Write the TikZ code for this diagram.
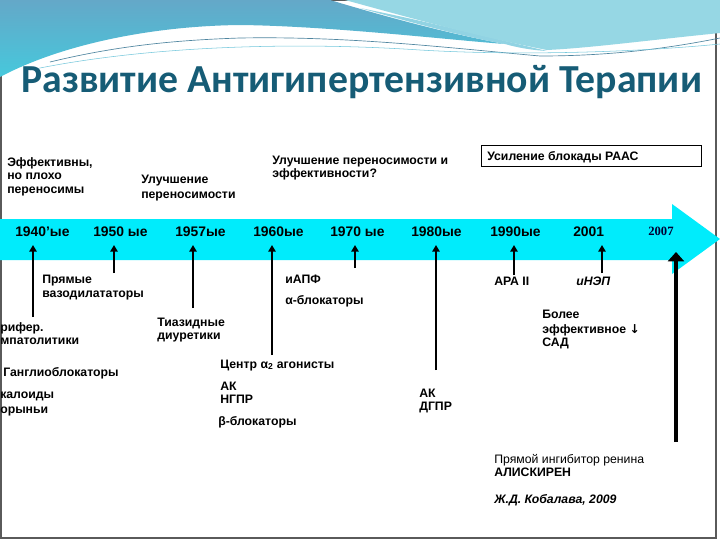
\documentclass[tikz,border=0pt]{standalone}
\usepackage{fontspec}
\setmainfont{Liberation Sans}
\newfontfamily\titlefont{Carlito}
\newfontfamily\seriffont{Liberation Serif}
\newfontfamily\symfont{DejaVu Sans}
\usetikzlibrary{arrows.meta}
\definecolor{bandc}{RGB}{0,236,252}
\definecolor{titlec}{RGB}{22,92,118}
\definecolor{tealA}{RGB}{100,168,200}
\definecolor{tealD}{RGB}{70,200,220}
\definecolor{tealB}{RGB}{118,200,220}
\definecolor{tealC}{RGB}{150,215,228}
\definecolor{framec}{RGB}{90,90,90}
\begin{document}
\begin{tikzpicture}[x=0.75pt,y=-0.75pt,
  lbl/.style={font=\fontsize{9.2}{11}\selectfont\bfseries, inner sep=0, anchor=base west},
  lblreg/.style={font=\fontsize{9.2}{11}\selectfont, inner sep=0, anchor=base west},
  yearlbl/.style={font=\fontsize{10.4}{12}\selectfont\bfseries, inner sep=0, anchor=base west},
  arr/.style={line width=1.8pt, -{Triangle[length=5pt,width=5.5pt]}},
  bigarr/.style={line width=3pt, -{Triangle[length=7pt,width=12pt]}}]
\useasboundingbox (0,0) rectangle (720,540);
\fill[white] (0,0) rectangle (720,540);
% frame
\draw[framec, line width=0.8pt] (1,0.5) rectangle (716,538);
% top decoration
\shade[top color=tealA, bottom color=tealD]
  (0,0) -- (330,0) .. controls (390,18) and (450,34) .. (505,44)
  .. controls (450,40) and (330,26) .. (240,25)
  .. controls (150,26) and (60,45) .. (0,77) -- cycle;
\fill[tealB!80!white] (360,8) .. controls (420,25) and (470,38) .. (505,44)
  .. controls (515,47) and (530,50) .. (547,51) .. controls (500,40) and (430,22) .. (360,8) -- cycle;
\fill[tealC]
  (345,0) -- (720,0) -- (720,33)
  .. controls (650,40) and (590,48) .. (547,50)
  .. controls (470,35) and (400,15) .. (345,0) -- cycle;
\draw[tealA!80!black, line width=0.5pt] (50,62) .. controls (120,45) and (180,40) .. (240,38)
  .. controls (350,36) and (450,48) .. (540,56) .. controls (620,56) and (680,46) .. (720,38);
\draw[tealB, line width=0.4pt] (30,70) .. controls (150,45) and (300,42) .. (420,50)
  .. controls (520,56) and (640,52) .. (720,44);
% title
\node[font=\titlefont\bfseries\fontsize{29.8}{36}\selectfont, text=titlec, anchor=base west, inner sep=0] (title) at (21,92) {Развитие Антигипертензивной Терапии};
% band arrow
\fill[bandc] (0,219) -- (672,219) -- (672,204) -- (720,239) -- (672,274) -- (672,260) -- (0,260) -- cycle;
% upper texts
\node[lbl] (t1a) at (7,166) {Эффективны,};
\node[lbl] (t1b) at (7,179) {но плохо};
\node[lbl] (t1c) at (7,193) {переносимы};
\node[lbl] (t2a) at (141,183) {Улучшение};
\node[lbl] (t2b) at (141,198) {переносимости};
\node[lbl] (t3a) at (272,164) {Улучшение переносимости и};
\node[lbl] (t3b) at (272,177) {эффективности?};
\node[draw=black, line width=0.6pt, anchor=north west, inner sep=0,
      minimum width=165pt, minimum height=15.75pt] (boxr) at (481,145) {};
\node[lbl] (boxt) at (487,160) {Усиление блокады РААС};
% years
\node[yearlbl] (y1) at (15,236) {1940’ые};
\node[yearlbl] (y2) at (93,236) {1950 ые};
\node[yearlbl] (y3) at (175,236) {1957ые};
\node[yearlbl] (y4) at (253,236) {1960ые};
\node[yearlbl] (y5) at (330,236) {1970 ые};
\node[yearlbl] (y6) at (411,236) {1980ые};
\node[yearlbl] (y7) at (490,236) {1990ые};
\node[yearlbl] (y8) at (573,236) {2001};
\node[font=\seriffont\bfseries\fontsize{9.5}{11}\selectfont, text=black!80!blue, inner sep=0, anchor=base west] (y9) at (648,235) {2007};
% arrows
\coordinate (a1b) at (33,317);  \coordinate (a1t) at (33,245);
\coordinate (a2b) at (114,273); \coordinate (a2t) at (114,245);
\coordinate (a3b) at (193,308); \coordinate (a3t) at (193,245);
\coordinate (a4b) at (272,355); \coordinate (a4t) at (272,245);
\coordinate (a5b) at (355,268); \coordinate (a5t) at (355,245);
\coordinate (a6b) at (436,370); \coordinate (a6t) at (436,245);
\coordinate (a7b) at (514,275); \coordinate (a7t) at (514,245);
\coordinate (a8b) at (602,273); \coordinate (a8t) at (602,245);
\coordinate (a9b) at (676,442); \coordinate (a9t) at (676,252);
\draw[arr] (a1b) -- (a1t);
\draw[arr] (a2b) -- (a2t);
\draw[arr] (a3b) -- (a3t);
\draw[arr] (a4b) -- (a4t);
\draw[arr] (a5b) -- (a5t);
\draw[arr] (a6b) -- (a6t);
\draw[arr] (a7b) -- (a7t);
\draw[arr] (a8b) -- (a8t);
\draw[bigarr] (a9b) -- (a9t);
% lower texts
\node[lbl] (pr1) at (42,283) {Прямые};
\node[lbl] (pr2) at (42,297) {вазодилататоры};
\node[lbl] (rf1) at (0,331) {рифер.};
\node[lbl] (rf2) at (0,344) {мпатолитики};
\node[lbl] (gang) at (3,376) {Ганглиоблокаторы};
\node[lbl] (alk1) at (0,398) {калоиды};
\node[lbl] (alk2) at (0,413) {орыньи};
\node[lbl] (tz1) at (157,326) {Тиазидные};
\node[lbl] (tz2) at (157,339) {диуретики};
\node[lbl] (iapf) at (285,283) {иАПФ};
\node[lbl] (ab) at (285,304) {α-блокаторы};
\node[lbl] (ca) at (220,368) {Центр α\textsubscript{2} агонисты};
\node[lbl] (ak1) at (220,390) {АК};
\node[lbl] (ak2) at (220,403) {НГПР};
\node[lbl] (bb) at (218,425) {β-блокаторы};
\node[lbl] (ara) at (494,285) {АРА II};
\node[lbl, font=\fontsize{9.2}{11}\selectfont\bfseries\itshape] (inep) at (576,285) {иНЭП};
\node[lbl] (bol1) at (542,318) {Более};
\node[lbl] (bol2) at (542,333) {эффективное {\symfont\bfseries ↓}};
\node[lbl] (bol3) at (542,346) {САД};
\node[lbl] (dg1) at (419,397) {АК};
\node[lbl] (dg2) at (419,410) {ДГПР};
\node[lblreg] (pi1) at (494,463) {Прямой ингибитор ренина};
\node[lbl] (pi2) at (494,476) {АЛИСКИРЕН};
\node[lbl, font=\fontsize{9.2}{11}\selectfont\bfseries\itshape] (kob) at (494,503) {Ж.Д. Кобалава, 2009};
\end{tikzpicture}
\end{document}
